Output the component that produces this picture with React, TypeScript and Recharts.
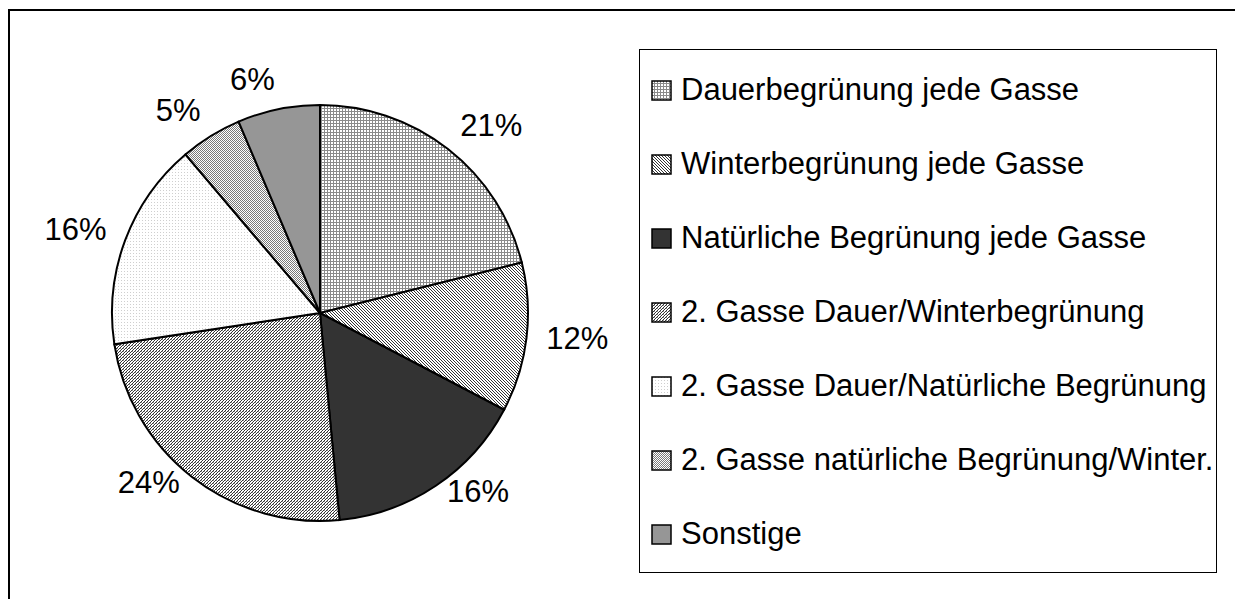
import React from "react"
import { PieChart, Pie, Cell, Legend } from "recharts"

const categories = [
  "Dauerbegrünung jede Gasse",
  "Winterbegrünung jede Gasse",
  "Natürliche Begrünung jede Gasse",
  "2. Gasse Dauer/Winterbegrünung",
  "2. Gasse Dauer/Natürliche Begrünung",
  "2. Gasse natürliche Begrünung/Winter.",
  "Sonstige",
]
const shares = [21.1, 11.6, 15.8, 24.1, 16.2, 4.8, 6.4]
const fills = [
  "url(#pDauer)",
  "url(#pWinter)",
  "#333333",
  "url(#pDauerWinter)",
  "url(#pDauerNat)",
  "url(#pNatWinter)",
  "#969696",
]

const data = categories.map((name, i) => ({ name, value: shares[i] }))

const FONT = "'Liberation Sans', Arial, sans-serif"

// Excel-artige Schraffuren
function Patterns() {
  return (
    <defs>
      <pattern id="pDauer" width="3" height="3" patternUnits="userSpaceOnUse">
        <rect width="3" height="3" fill="#fff" />
        <rect width="3" height="1" fill="#8a8a8a" />
        <rect width="1" height="3" fill="#8a8a8a" />
      </pattern>
      <pattern id="pWinter" width="3" height="3" patternUnits="userSpaceOnUse">
        <rect width="3" height="3" fill="#fff" />
        <rect x="0" y="0" width="1" height="1" fill="#333" />
        <rect x="1" y="1" width="1" height="1" fill="#333" />
        <rect x="2" y="2" width="1" height="1" fill="#333" />
      </pattern>
      <pattern id="pDauerWinter" width="3" height="3" patternUnits="userSpaceOnUse">
        <rect width="3" height="3" fill="#fff" />
        <rect x="2" y="0" width="1" height="1" fill="#333" />
        <rect x="1" y="1" width="1" height="1" fill="#333" />
        <rect x="0" y="2" width="1" height="1" fill="#333" />
        <rect x="0" y="0" width="1" height="1" fill="#999" />
      </pattern>
      <pattern id="pDauerNat" width="3" height="3" patternUnits="userSpaceOnUse">
        <rect width="3" height="3" fill="#fff" />
        <rect x="1" y="1" width="1" height="1" fill="#cfcfcf" />
      </pattern>
      <pattern id="pNatWinter" width="2" height="2" patternUnits="userSpaceOnUse">
        <rect width="2" height="2" fill="#fff" />
        <rect x="0" y="0" width="1" height="1" fill="#7a7a7a" />
        <rect x="1" y="1" width="1" height="1" fill="#7a7a7a" />
      </pattern>
    </defs>
  )
}

// Beschriftung außen, wie Excel: waagrecht weiter weg, unten näher am Kreis
const renderLabel = (p: any) => {
  const RAD = Math.PI / 180
  const h = Math.cos(-p.midAngle * RAD)
  const v = Math.sin(-p.midAngle * RAD)
  const text = `${Math.round(p.percent * 100)}%`
  const hw = text.length * 9 + 4
  const r = p.outerRadius
  const x = p.cx + (r + 20) * h + Math.sign(h) * hw
  const y = p.cy + (v < 0 ? r + 30 : r + 7) * v
  return (
    <text
      x={x}
      y={y}
      fill="#000"
      fontSize={31}
      fontFamily={FONT}
      textAnchor="middle"
      dominantBaseline="central"
    >
      {text}
    </text>
  )
}

function LegendBox() {
  return (
    <div
      style={{
        boxSizing: "border-box",
        width: 578,
        height: 524,
        border: "1px solid #000",
        background: "#fff",
        paddingTop: 3,
        paddingLeft: 11,
        fontFamily: FONT,
        fontSize: 31,
        color: "#000",
      }}
    >
      {categories.map((name, i) => (
        <div key={name} style={{ display: "flex", alignItems: "center", height: 74 }}>
          <svg width={21} height={21} style={{ flex: "none", marginRight: 9 }}>
            <rect x={1} y={1} width={19} height={19} fill={fills[i]} stroke="#000" strokeWidth={1.5} />
          </svg>
          <span style={{ lineHeight: 1.15, whiteSpace: "nowrap" }}>{name}</span>
        </div>
      ))}
    </div>
  )
}

export default function App() {
  return (
    <div style={{ position: "absolute", left: 0, top: 0, width: 1235, height: 599, overflow: "hidden", background: "#fff" }}>
      <style>{"body{overflow:hidden}"}</style>
      <div
        style={{
          position: "absolute",
          left: 8,
          top: 9,
          width: 1400,
          height: 800,
          border: "2px solid #000",
        }}
      />
      <div style={{ position: "absolute", left: 0, top: 0 }}>
        <PieChart width={1235} height={599} margin={{ top: 0, right: 0, bottom: 0, left: 0 }}>
          <Patterns />
          <Pie
            data={data}
            dataKey="value"
            nameKey="name"
            cx={320}
            cy={313}
            outerRadius={208}
            startAngle={90}
            endAngle={-270}
            stroke="#000"
            strokeWidth={2}
            label={renderLabel}
            labelLine={false}
            isAnimationActive={false}
          >
            {data.map((d, i) => (
              <Cell key={d.name} fill={fills[i]} stroke="#000" strokeWidth={2} />
            ))}
          </Pie>
          <Legend
            layout="vertical"
            align="right"
            verticalAlign="top"
            wrapperStyle={{ left: 639, top: 49, right: "auto", bottom: "auto", width: 578 }}
            content={() => <LegendBox />}
          />
        </PieChart>
      </div>
    </div>
  )
}
